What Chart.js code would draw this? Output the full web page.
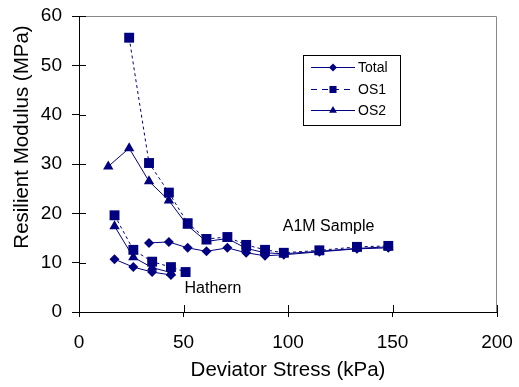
<!DOCTYPE html>
<html>
<head>
<meta charset="utf-8">
<script src="https://cdn.jsdelivr.net/npm/chart.js@4/dist/chart.umd.min.js"></script>
<style>
html,body{margin:0;padding:0;background:#fff;}
#wrap{width:519px;height:387px;position:relative;}
</style>
</head>
<body>
<div id="wrap"><canvas id="c"></canvas></div>
<script>
// ---- data ----
const xTicks = [0, 50, 100, 150, 200];
const yTicks = [0, 10, 20, 30, 40, 50, 60];
const seriesNames = ['Total', 'OS1', 'OS2'];

const hathernX     = [17, 26, 35, 44, 51];
const hathernTotal = [10.7, 9.1, 8.1, 7.5, null];
const hathernOS1   = [19.6, 12.6, 10.2, 9.1, 8.1];
const hathernOS2   = [17.4, 11.1, 9.0, 8.0, null];

const a1mX     = [14, 24, 33.5, 43, 52, 61, 71, 80, 89, 98, 115, 133, 148];
const a1mTotal = [null, null, 14.0, 14.2, 13.0, 12.3, 13.0, 12.0, 11.4, 11.6, 12.2, 12.8, 13.0];
const a1mOS1   = [null, 55.6, 30.2, 24.2, 18.0, 14.8, 15.2, 13.6, 12.6, 12.0, 12.5, 13.2, 13.4];
const a1mOS2   = [29.5, 33.2, 26.5, 22.6, 17.5, 14.3, 14.9, 12.9, 12.0, 11.8, 12.3, 12.9, 13.2];

const labelA1M = 'A1M Sample';
const labelHathern = 'Hathern';
const xTitle = 'Deviator Stress (kPa)';
const yTitle = 'Resilient Modulus (MPa)';
// ---------------

const FONT = '"Liberation Sans", Arial, sans-serif';
const NAVY = '#000080';

function build(hx, hy, ax, ay) {
  const pts = [];
  hx.forEach((x, i) => pts.push({x: x, y: hy[i]}));
  pts.push({x: ax[0], y: null});
  ax.forEach((x, i) => pts.push({x: x, y: ay[i]}));
  return pts;
}

const styles = [
  {pointStyle: 'rectRot', radius: 5, dash: [], legendDash: [], legendR: 4},
  {pointStyle: 'rect', radius: 7, dash: [3, 3], legendDash: [6, 5], legendR: 5},
  {pointStyle: 'triangle', radius: 6, dash: [], legendDash: [], legendR: 4.5}
];

const datasets = [
  build(hathernX, hathernTotal, a1mX, a1mTotal),
  build(hathernX, hathernOS1, a1mX, a1mOS1),
  build(hathernX, hathernOS2, a1mX, a1mOS2)
].map((d, i) => ({
  label: seriesNames[i],
  data: d,
  borderColor: NAVY,
  backgroundColor: NAVY,
  borderWidth: 1,
  borderDash: styles[i].dash,
  pointStyle: styles[i].pointStyle,
  pointRadius: styles[i].radius,
  pointHoverRadius: styles[i].radius,
  pointBorderWidth: 0,
  pointBackgroundColor: NAVY,
  pointBorderColor: NAVY,
  spanGaps: false,
  tension: 0
}));

const decor = {
  id: 'decor',
  beforeDatasetsDraw(chart) {
    const {ctx, chartArea: a, scales: {x, y}} = chart;
    ctx.save();
    // gray frame top/right
    ctx.strokeStyle = '#888888';
    ctx.lineWidth = 1;
    ctx.beginPath();
    ctx.moveTo(a.left, a.top + 0.5);
    ctx.lineTo(a.right - 0.5, a.top + 0.5);
    ctx.lineTo(a.right - 0.5, a.bottom);
    ctx.stroke();
    // inner tick parts
    ctx.strokeStyle = '#000';
    ctx.beginPath();
    xTicks.forEach(v => {
      const px = Math.round(x.getPixelForValue(v)) + 0.5;
      ctx.moveTo(px, a.bottom);
      ctx.lineTo(px, a.bottom - 7);
    });
    yTicks.forEach(v => {
      const py = Math.round(y.getPixelForValue(v)) + 0.5;
      ctx.moveTo(a.left, py);
      ctx.lineTo(a.left + 7, py);
    });
    ctx.stroke();
    ctx.restore();
  },
  afterDraw(chart) {
    const {ctx, chartArea: a, scales: {x, y}} = chart;
    ctx.save();
    ctx.fillStyle = '#000';
    // y title (placed toward the top as in the reference)
    ctx.font = '20.5px ' + FONT;
    ctx.textAlign = 'center';
    ctx.textBaseline = 'middle';
    ctx.translate(22, a.top + 121);
    ctx.rotate(-Math.PI / 2);
    ctx.fillText(yTitle, 0, 0);
    ctx.setTransform(1, 0, 0, 1, 0, 0);
    // x title
    ctx.fillText(xTitle, (a.left + a.right) / 2, 370);
    // annotations
    ctx.font = '16px ' + FONT;
    ctx.textAlign = 'left';
    ctx.fillText(labelA1M, x.getPixelForValue(97.5), y.getPixelForValue(17.3));
    ctx.fillText(labelHathern, x.getPixelForValue(50.5), y.getPixelForValue(4.8));
    // legend
    const L = 303, T = 55, W = 97, H = 70;
    ctx.fillStyle = '#fff';
    ctx.fillRect(L, T, W, H);
    ctx.strokeStyle = '#000';
    ctx.lineWidth = 1;
    ctx.setLineDash([]);
    ctx.strokeRect(L + 0.5, T + 0.5, W, H);
    const rows = [67, 89, 110];
    ctx.font = '14px ' + FONT;
    seriesNames.forEach((name, i) => {
      const ry = rows[i] + 0.5;
      ctx.strokeStyle = NAVY;
      ctx.setLineDash(styles[i].legendDash);
      ctx.beginPath();
      ctx.moveTo(311, ry);
      ctx.lineTo(355, ry);
      ctx.stroke();
      ctx.setLineDash([]);
      ctx.fillStyle = NAVY;
      Chart.helpers.drawPoint(ctx, {pointStyle: styles[i].pointStyle, radius: styles[i].legendR, borderWidth: 0, rotation: 0}, 333, ry);
      ctx.fillStyle = '#000';
      ctx.textAlign = 'left';
      ctx.textBaseline = 'middle';
      ctx.fillText(name, 358, rows[i] + 1);
    });
    ctx.restore();
  }
};

new Chart(document.getElementById('c'), {
  type: 'line',
  data: {datasets: datasets},
  options: {
    responsive: true,
    maintainAspectRatio: false,
    animation: false,
    events: [],
    layout: {padding: {top: 16, right: 22, left: 0, bottom: 0}},
    plugins: {legend: {display: false}, tooltip: {enabled: false}},
    scales: {
      x: {
        type: 'linear',
        min: 0, max: 200,
        afterFit(s) { s.height = 75; s.paddingLeft = 0; s.paddingRight = 0; },
        afterBuildTicks(s) { s.ticks = xTicks.map(v => ({value: v})); },
        ticks: {color: '#000', font: {family: FONT, size: 19}, padding: 14, maxRotation: 0},
        grid: {drawOnChartArea: false, tickLength: 5, color: '#000', tickColor: '#000'},
        border: {display: true, color: '#000', width: 1},
        title: {display: false}
      },
      y: {
        type: 'linear',
        min: 0, max: 60,
        afterFit(s) { s.width = 79; s.paddingTop = 0; s.paddingBottom = 0; },
        afterBuildTicks(s) { s.ticks = yTicks.map(v => ({value: v})); },
        ticks: {color: '#000', font: {family: FONT, size: 19}, padding: 10},
        grid: {drawOnChartArea: false, tickLength: 7, color: '#000', tickColor: '#000'},
        border: {display: true, color: '#000', width: 1},
        title: {display: false}
      }
    }
  },
  plugins: [decor]
});
</script>
</body>
</html>
